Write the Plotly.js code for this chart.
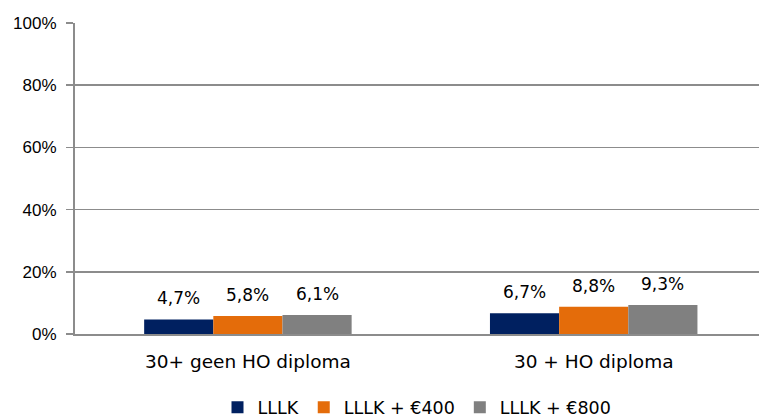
<!DOCTYPE html>
<html>
<head>
<meta charset="utf-8">
<script src="https://cdn.plot.ly/plotly-3.0.1.min.js"></script>
<style>html,body{margin:0;padding:0;background:#fff;}#chart{width:759px;height:420px;}</style>
</head>
<body>
<div id="chart"></div>
<script>
const categories = ["30+ geen HO diploma", "30 + HO diploma"];
const seriesNames = ["LLLK", "LLLK + €400", "LLLK + €800"];
const lllk = [0.047, 0.067];
const lllk400 = [0.058, 0.088];
const lllk800 = [0.061, 0.093];
const labels1 = ["4,7%", "6,7%"];
const labels2 = ["5,8%", "8,8%"];
const labels3 = ["6,1%", "9,3%"];
const colors = ["#002060", "#E46C0A", "#808080"];

const bargap = 0.4;
const vals = [lllk, lllk400, lllk800];
const labs = [labels1, labels2, labels3];
const traces = vals.map((v, i) => ({
  type: 'bar',
  name: seriesNames[i],
  x: categories,
  y: v,
  marker: {color: colors[i]},
  hoverinfo: 'none'
}));

// data labels placed above each bar (positions derived from data + group layout)
const nSeries = vals.length;
const barW = (1 - bargap) / nSeries;
const annotations = [];
vals.forEach((v, i) => {
  v.forEach((val, j) => {
    annotations.push({
      x: j + (i - (nSeries - 1) / 2) * barW,
      y: val,
      xref: 'x', yref: 'y',
      text: labs[i][j],
      showarrow: false,
      yanchor: 'bottom',
      yshift: 9,
      font: {family: 'DejaVu Sans', size: 17, color: '#000'}
    });
  });
});

const layout = {
  width: 759, height: 420,
  margin: {l: 75, r: 0, t: 23, b: 86, autoexpand: false},
  paper_bgcolor: '#fff', plot_bgcolor: '#fff',
  barmode: 'group',
  bargap: bargap,
  bargroupgap: 0,
  separators: ',.',
  showlegend: true,
  annotations: annotations,
  legend: {orientation: 'h', x: 0.5, xanchor: 'center', y: -0.178, yanchor: 'top',
           font: {family: 'DejaVu Sans', size: 17.5, color: '#000'},
           itemwidth: 30, traceorder: 'normal'},
  xaxis: {
    type: 'category',
    range: [-0.5, 1.478],
    showgrid: false,
    showline: true, linecolor: '#8c8c8c', linewidth: 2,
    ticks: '',
    ticklabelstandoff: 10,
    tickfont: {family: 'DejaVu Sans', size: 18.5, color: '#000'},
    fixedrange: true
  },
  yaxis: {
    range: [0, 1],
    tickvals: [0, 0.2, 0.4, 0.6, 0.8, 1.0],
    ticktext: ["0%", "20%", "40%", "60%", "80%", "100%"],
    showgrid: true, gridcolor: '#8c8c8c', gridwidth: 1.5,
    showline: true, linecolor: '#8c8c8c', linewidth: 2,
    zeroline: false,
    ticks: 'outside', ticklen: 7, tickcolor: '#8c8c8c', tickwidth: 1.5,
    ticklabelstandoff: 6,
    tickfont: {family: 'Liberation Sans', size: 17, color: '#000'},
    fixedrange: true
  }
};

Plotly.newPlot('chart', traces, layout, {displayModeBar: false, staticPlot: true});
</script>
</body>
</html>
